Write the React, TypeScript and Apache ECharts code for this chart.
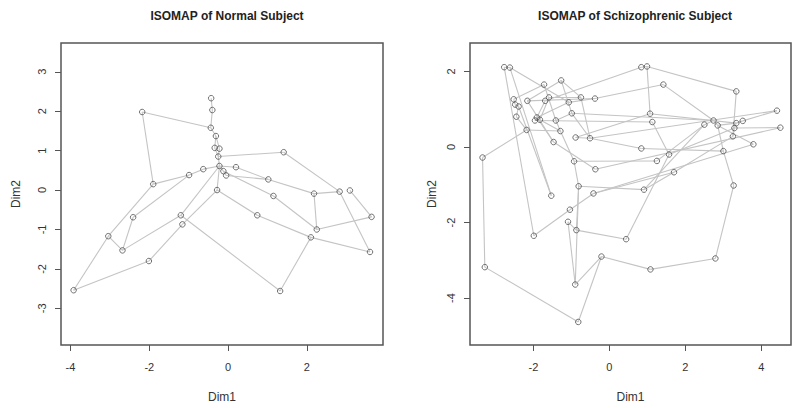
import React, { useEffect, useRef } from "react";
import * as echarts from "echarts";

// ---- Normal subject embedding ----
const normalX = [
  -2.18, -1.9, -0.99, -0.63, -0.43, -0.4, -0.44, -0.31, -0.34, -0.22,
  -0.25, -0.22, 0.2, -0.12, -0.05, -0.28, 1.41, 1.02, 1.15, 0.74,
  2.18, 2.83, 3.09, 3.64, 2.25, 2.1, 3.6, 1.32, -1.2, -1.16,
  -2.41, -3.04, -2.68, -2.01, -3.92,
];
const normalY = [
  1.98, 0.15, 0.38, 0.53, 2.33, 2.03, 1.58, 1.37, 1.07, 1.05,
  0.85, 0.61, 0.58, 0.48, 0.37, 0.0, 0.96, 0.27, -0.15, -0.64,
  -0.09, -0.04, -0.01, -0.68, -1.0, -1.2, -1.57, -2.56, -0.64, -0.87,
  -0.69, -1.17, -1.53, -1.8, -2.54,
];
const normalEdges = [
  [1, 2], [1, 7], [2, 3], [3, 4], [4, 12], [2, 32], [32, 35], [32, 33],
  [33, 31], [31, 3], [33, 29], [35, 34], [34, 30], [30, 16], [29, 12],
  [16, 12], [16, 20], [20, 26], [26, 28], [28, 29], [26, 27], [25, 24],
  [21, 25], [19, 25], [18, 21], [15, 18], [14, 19], [13, 18], [17, 11],
  [17, 22], [21, 22], [22, 27], [23, 24], [5, 6], [6, 7], [7, 8], [8, 9],
  [9, 11], [10, 11], [8, 10], [11, 12], [12, 14], [14, 15], [12, 13],
];

// ---- Schizophrenic subject embedding ----
const schizoX = [
  -2.77, -2.62, -1.72, -1.27, -2.52, -2.16, -1.69, -1.59, -1.07, -0.75,
  -0.38, -2.48, -2.39, -0.99, -2.45, -1.91, -1.96, -1.83, -1.41, -2.18,
  -1.29, -0.89, -0.51, -1.47, -3.34, -0.93, -0.37, -0.81, -0.42, -1.53,
  0.84, 0.99, 1.42, 3.34, 1.07, 1.13, 4.41, 4.5, 2.5, 2.74,
  2.85, 3.34, 3.51, 3.29, 3.25, 3.79, 3.0, 0.84, 1.57, 1.25,
  1.7, 0.91, 3.27, 0.44, -0.21, 1.08, 2.79, -1.04, -1.09, -0.87,
  -1.99, -3.28, -0.9, -0.82,
];
const schizoY = [
  2.11, 2.1, 1.65, 1.76, 1.26, 1.22, 1.22, 1.31, 1.18, 1.31,
  1.28, 1.12, 1.07, 0.89, 0.8, 0.78, 0.7, 0.72, 0.7, 0.45,
  0.42, 0.25, 0.23, 0.13, -0.28, -0.38, -0.59, -1.04, -1.23, -1.29,
  2.11, 2.13, 1.65, 1.47, 0.88, 0.66, 0.96, 0.51, 0.59, 0.7,
  0.57, 0.63, 0.69, 0.5, 0.28, 0.07, -0.11, -0.04, -0.2, -0.37,
  -0.67, -1.13, -1.02, -2.44, -2.9, -3.24, -2.95, -1.66, -1.98, -2.2,
  -2.35, -3.18, -3.64, -4.63,
];
const schizoEdges = [
  [1, 2], [1, 61], [2, 9], [2, 30], [3, 5], [3, 19], [4, 6], [4, 14],
  [5, 12], [6, 11], [7, 31], [8, 10], [8, 18], [9, 16], [10, 23], [11, 33],
  [12, 13], [13, 15], [13, 30], [15, 20], [16, 17], [17, 18], [18, 21],
  [16, 24], [19, 14], [19, 21], [20, 21], [20, 25], [21, 26], [22, 23],
  [22, 35], [23, 14], [24, 27], [25, 62], [26, 28], [23, 48], [27, 38],
  [26, 50], [28, 63], [28, 52], [29, 46], [29, 58], [29, 51], [58, 61],
  [59, 60], [59, 63], [60, 54], [60, 28], [62, 64], [64, 55], [63, 55],
  [55, 56], [56, 57], [57, 53], [53, 47], [54, 49], [52, 51], [52, 39],
  [47, 48], [47, 41], [41, 46], [40, 33], [39, 40], [40, 41], [41, 42],
  [42, 43], [43, 37], [44, 42], [44, 45], [45, 34], [34, 32], [31, 32],
  [32, 35], [35, 42], [36, 49], [36, 17], [49, 44], [50, 39], [51, 45],
  [38, 44], [11, 9], [10, 4], [7, 16], [6, 24], [14, 40], [23, 37],
];

const normalTicksX = [-4, -2, 0, 2];
const normalTicksY = [-3, -2, -1, 0, 1, 2, 3];
const schizoTicksX = [-2, 0, 2, 4];
const schizoTicksY = [-4, -2, 0, 2];

const FONT = "Liberation Sans, Arial, Helvetica, sans-serif";

function edgeData(xs: number[], ys: number[], edges: number[][]) {
  return edges.map(([a, b]) => ({
    coords: [
      [xs[a - 1], ys[a - 1]],
      [xs[b - 1], ys[b - 1]],
    ],
  }));
}

function pointData(xs: number[], ys: number[]) {
  return xs.map((x, i) => [x, ys[i]]);
}

function makeAxis(
  gridIndex: number,
  min: number,
  max: number,
  ticks: number[],
  name: string,
  isY: boolean,
  nameGap: number
) {
  return {
    gridIndex,
    type: "value",
    min,
    max,
    position: isY ? "left" : "bottom",
    axisLine: { show: false, onZero: false },
    splitLine: { show: false },
    axisTick: {
      show: true,
      customValues: ticks,
      length: 6,
      lineStyle: { color: "#555", width: 1 },
    },
    axisLabel: {
      customValues: ticks,
      fontSize: 11,
      color: "#333",
      fontFamily: FONT,
      margin: isY ? 14 : 16,
      rotate: isY ? 90 : 0,
    },
    name,
    nameLocation: "middle",
    nameGap,
    nameRotate: isY ? 90 : 0,
    nameTextStyle: { fontSize: 12, color: "#333", fontFamily: FONT },
  };
}

export default function App() {
  const ref = useRef<HTMLDivElement>(null);
  useEffect(() => {
    if (!ref.current) return;
    const chart = echarts.init(ref.current, null, { renderer: "svg" });
    const lineStyle = { color: "#c4c4c4", width: 1.1, opacity: 1 };
    const pointStyle = {
      color: "rgba(255,255,255,0)",
      borderColor: "#505050",
      borderWidth: 1,
    };
    chart.setOption({
      animation: false,
      backgroundColor: "#ffffff",
      title: [
        {
          text: "ISOMAP of Normal Subject",
          left: 222,
          top: 5,
          textAlign: "center",
          textStyle: { fontSize: 12, fontWeight: "bold", color: "#222", fontFamily: FONT },
        },
        {
          text: "ISOMAP of Schizophrenic Subject",
          left: 630,
          top: 5,
          textAlign: "center",
          textStyle: { fontSize: 12, fontWeight: "bold", color: "#222", fontFamily: FONT },
        },
      ],
      grid: [
        { left: 61, top: 43, width: 322, height: 302, show: true, borderColor: "#555", borderWidth: 1.5, backgroundColor: "#fff" },
        { left: 470, top: 43, width: 321, height: 302, show: true, borderColor: "#555", borderWidth: 1.5, backgroundColor: "#fff" },
      ],
      xAxis: [
        makeAxis(0, -4.24, 3.93, normalTicksX, "Dim1", false, 46),
        makeAxis(1, -3.67, 4.78, schizoTicksX, "Dim1", false, 46),
      ],
      yAxis: [
        makeAxis(0, -3.93, 3.73, normalTicksY, "Dim2", true, 39),
        makeAxis(1, -5.24, 2.75, schizoTicksY, "Dim2", true, 32),
      ],
      series: [
        {
          type: "lines",
          coordinateSystem: "cartesian2d",
          xAxisIndex: 0,
          yAxisIndex: 0,
          silent: true,
          lineStyle,
          data: edgeData(normalX, normalY, normalEdges),
        },
        {
          type: "scatter",
          xAxisIndex: 0,
          yAxisIndex: 0,
          symbol: "circle",
          symbolSize: 5.5,
          itemStyle: pointStyle,
          silent: true,
          z: 5,
          data: pointData(normalX, normalY),
        },
        {
          type: "lines",
          coordinateSystem: "cartesian2d",
          xAxisIndex: 1,
          yAxisIndex: 1,
          silent: true,
          lineStyle,
          data: edgeData(schizoX, schizoY, schizoEdges),
        },
        {
          type: "scatter",
          xAxisIndex: 1,
          yAxisIndex: 1,
          symbol: "circle",
          symbolSize: 5.5,
          itemStyle: pointStyle,
          silent: true,
          z: 5,
          data: pointData(schizoX, schizoY),
        },
      ],
    });
    return () => chart.dispose();
  }, []);
  return <div ref={ref} style={{ width: 800, height: 408, position: "absolute", left: 0, top: 0 }} />;
}
